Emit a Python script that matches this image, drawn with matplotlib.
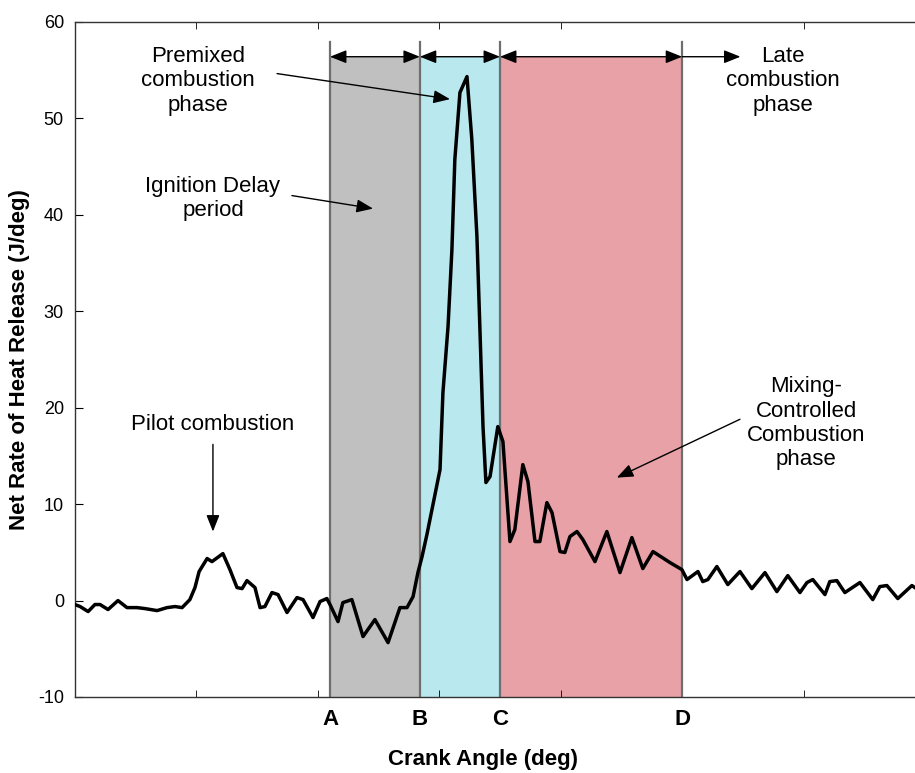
import matplotlib
matplotlib.use('Agg')
import matplotlib.pyplot as plt

plt.rcParams['font.family'] = ['Liberation Sans', 'DejaVu Sans']
plt.rcParams['axes.unicode_minus'] = False

# Crank angle (deg) and net heat release rate (J/deg)
crank_angle = [
    -15.0, -14.79, -14.46, -14.18, -13.97, -13.64, -13.23, -12.86, -12.45, -12.12,
    -11.62, -11.21, -10.88, -10.59, -10.27, -10.06, -9.89, -9.56, -9.36, -8.91,
    -8.62, -8.33, -8.12, -7.92, -7.59, -7.38, -7.18, -6.89, -6.64, -6.27,
    -5.86, -5.61, -5.20, -4.91, -4.63, -4.50, -4.17, -3.97, -3.60, -3.14,
    -2.65, -2.11, -1.62, -1.33, -1.08, -0.88, -0.71, -0.51, -0.26, 0.03,
    0.15, 0.36, 0.52, 0.64, 0.85, 1.14, 1.34, 1.55, 1.67, 1.80,
    1.92, 2.09, 2.41, 2.62, 2.91, 3.11, 3.44, 3.65, 3.94, 4.14,
    4.43, 4.64, 4.97, 5.17, 5.38, 5.67, 5.91, 6.41, 6.90, 7.44,
    7.93, 8.38, 8.80, 9.50, 9.99, 10.20, 10.65, 10.85, 11.06, 11.43,
    11.88, 12.38, 12.87, 13.41, 13.90, 14.35, 14.85, 15.14, 15.38, 15.88,
    16.08, 16.37, 16.70, 17.32, 17.85, 18.14, 18.43, 18.88, 19.46, 19.58,
]
heat_release = [
    -0.41, -0.62, -1.14, -0.41, -0.41, -0.93, 0.0, -0.73, -0.73, -0.83,
    -1.04, -0.73, -0.62, -0.73, 0.10, 1.35, 3.01, 4.36, 4.04, 4.87,
    3.21, 1.35, 1.24, 2.07, 1.35, -0.73, -0.62, 0.83, 0.62, -1.24,
    0.31, 0.10, -1.76, -0.10, 0.21, -0.41, -2.18, -0.21, 0.10, -3.73,
    -1.97, -4.36, -0.73, -0.73, 0.41, 2.90, 4.56, 6.84, 9.96, 13.58,
    21.57, 28.41, 36.40, 45.73, 52.68, 54.34, 47.81, 37.75, 28.41, 18.04,
    12.24, 12.86, 18.04, 16.49, 6.12, 7.36, 14.10, 12.34, 6.12, 6.12,
    10.16, 9.13, 5.08, 4.98, 6.64, 7.16, 6.33, 4.04, 7.16, 2.90,
    6.53, 3.32, 5.08, 3.94, 3.21, 2.18, 3.01, 1.97, 2.18, 3.53,
    1.66, 3.01, 1.24, 2.90, 0.93, 2.59, 0.83, 1.87, 2.18, 0.62,
    1.97, 2.07, 0.83, 1.87, 0.10, 1.45, 1.56, 0.21, 1.56, 1.35,
]

# Phase boundaries (deg)
phase_names = ['A', 'B', 'C', 'D']
phase_edges = [-4.5, -0.8, 2.5, 10.0]
phase_colors = ['#c0c0c0', '#b9e8ee', '#e8a1a6']
late_end = 12.4

fig = plt.figure(figsize=(9.15, 7.73), dpi=100)
ax = fig.add_axes([0.08197, 0.09832, 0.92896, 0.87322])
ax.set_xlim(-15, 20)
ax.set_ylim(-10, 60)

band_top = 56.4
line_top = 57.9

# Shaded phases and boundary lines
for i in range(3):
    ax.fill_between([phase_edges[i], phase_edges[i + 1]], -10, band_top,
                    color=phase_colors[i], lw=0, zorder=1)
for x in phase_edges:
    ax.plot([x, x], [-10, line_top], color='#6e6e6e', lw=1.6, zorder=2)

# Heat release curve
ax.plot(crank_angle, heat_release, color='black', lw=2.5, zorder=3)

# Phase-duration arrows along the top
arrow_kw = dict(color='black', lw=1.0, shrinkA=0, shrinkB=0, mutation_scale=10)
for i in range(3):
    ax.annotate('', xy=(phase_edges[i + 1], band_top), xytext=(phase_edges[i], band_top),
                arrowprops=dict(arrowstyle='<|-|>,head_length=1.0,head_width=0.4', **arrow_kw),
                zorder=4)
ax.annotate('', xy=(late_end, band_top), xytext=(phase_edges[3], band_top),
            arrowprops=dict(arrowstyle='-|>,head_length=1.0,head_width=0.4', **arrow_kw),
            zorder=4)

# Labels with pointers
txt = dict(fontsize=16, ha='center', va='center', linespacing=1.2, zorder=5)
ax.text(-9.94, 53.9, 'Premixed\ncombustion\nphase', **txt)
ax.text(14.15, 53.9, 'Late\ncombustion\nphase', **txt)
ax.text(-9.32, 41.7, 'Ignition Delay\nperiod', **txt)
ax.text(-9.32, 18.25, 'Pilot combustion', **txt)
ax.text(15.1, 18.4, 'Mixing-\nControlled\nCombustion\nphase', **txt)

pointer = dict(arrowstyle='-|>,head_length=1.0,head_width=0.4', color='black',
               lw=1.0, shrinkA=0, shrinkB=0, mutation_scale=10)
ax.annotate('', xy=(0.44, 52.0), xytext=(-6.68, 54.65), arrowprops=pointer, zorder=5)
ax.annotate('', xy=(-2.73, 40.65), xytext=(-6.07, 42.0), arrowprops=pointer, zorder=5)
ax.annotate('', xy=(-9.32, 7.16), xytext=(-9.32, 16.2), arrowprops=pointer, zorder=5)
ax.annotate('', xy=(7.31, 12.75), xytext=(12.38, 18.8), arrowprops=pointer, zorder=5)

# Axes and ticks
ax.set_yticks(range(-10, 61, 10))
ax.set_xticks(phase_edges)
ax.set_xticklabels(phase_names, fontsize=16, fontweight='bold')
ax.set_xticks(range(-15, 20, 5), minor=True)
ax.tick_params(axis='x', which='major', length=0, pad=9)
ax.tick_params(axis='x', which='minor', direction='in', length=5, top=True, bottom=True)
ax.tick_params(axis='y', direction='in', length=6, labelsize=13, pad=8)

for side in ['left', 'top', 'bottom', 'right']:
    ax.spines[side].set_color('#333333')
    ax.spines[side].set_linewidth(1.0)

ax.set_xlabel('Crank Angle (deg)', fontsize=16, fontweight='bold')
ax.xaxis.set_label_coords(0.48, -0.077)
ax.set_ylabel('Net Rate of Heat Release (J/deg)', fontsize=16, fontweight='bold', labelpad=6)

fig.savefig('out.png', dpi=100)
